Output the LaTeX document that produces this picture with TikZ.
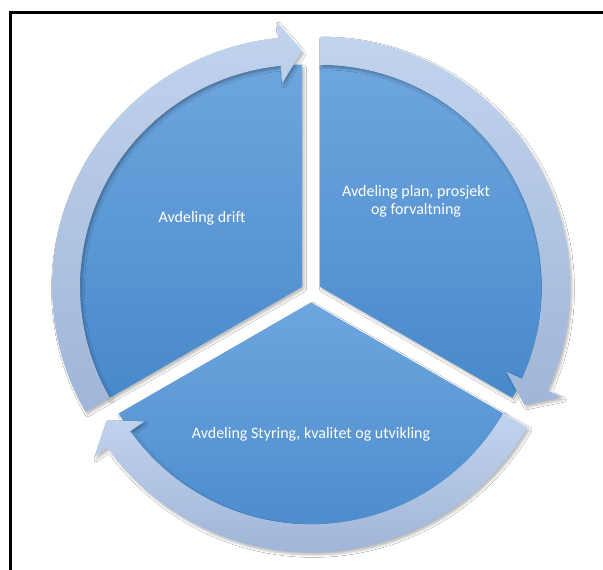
\documentclass[tikz,border=0pt]{standalone}
\usepackage{fontspec}
\setmainfont{Carlito}
\usetikzlibrary{shadows.blur}
\definecolor{secTop}{RGB}{110,166,222}
\definecolor{secBot}{RGB}{72,137,203}
\definecolor{ringTop}{RGB}{193,212,238}
\definecolor{ringBot}{RGB}{160,182,216}
\tikzset{
  sector/.style={top color=secTop, bottom color=secBot, draw=none,
    blur shadow={shadow xshift=2pt, shadow yshift=-2.5pt, shadow blur radius=2.5pt, shadow opacity=28}},
  ringarrow/.style={top color=ringTop, bottom color=ringBot, draw=none,
    blur shadow={shadow xshift=2pt, shadow yshift=-2.5pt, shadow blur radius=2.5pt, shadow opacity=28}},
  label/.style={text=white, font=\fontsize{16}{18}\selectfont, align=center, anchor=base, inner sep=0pt}
}
\begin{document}
\begin{tikzpicture}[x=1pt,y=1pt]
\useasboundingbox (0,0) rectangle (603,570);
\fill[white] (0,0) rectangle (603,570);
% frame
\draw[line width=3pt] (10,0) -- (10,557.5) -- (603,557.5);
% sectors
\begin{scope}[shift={(302,283.2)}]
  \path[sector] (0,0) -- (90:222) arc[start angle=90, end angle=210, radius=222] -- cycle;
\end{scope}
\begin{scope}[shift={(320,283.2)}]
  \path[sector] (0,0) -- (90:222) arc[start angle=90, end angle=-30, radius=222] -- cycle;
\end{scope}
\begin{scope}[shift={(311,267.6)}]
  \path[sector] (0,0) -- (-30:222) arc[start angle=-30, end angle=-150, radius=222] -- cycle;
\end{scope}
% ring arrows
\begin{scope}[shift={(302,283.2)}]
  \path[ringarrow] (210:250) arc[start angle=210, end angle=95.5, radius=250]
    -- (95.5:266) -- (90:236) -- (95.5:205) -- (95.5:222)
    arc[start angle=95.5, end angle=210, radius=222] -- cycle;
\end{scope}
\begin{scope}[shift={(320,283.2)}]
  \path[ringarrow] (90:250) arc[start angle=90, end angle=-24.5, radius=250]
    -- (-24.5:266) -- (-30:236) -- (-24.5:205) -- (-24.5:222)
    arc[start angle=-24.5, end angle=90, radius=222] -- cycle;
\end{scope}
\begin{scope}[shift={(311,267.6)}]
  \path[ringarrow] (-30:250) arc[start angle=-30, end angle=-144.5, radius=250]
    -- (-144.5:266) -- (-150:236) -- (-144.5:205) -- (-144.5:222)
    arc[start angle=-144.5, end angle=-30, radius=222] -- cycle;
\end{scope}
% labels
\node[label] (drift) at (202,347) {Avdeling drift};
\node[label] (plan) at (416,355) {Avdeling plan, prosjekt\\og forvaltning};
\node[label] (styring) at (311,131) {Avdeling Styring, kvalitet og utvikling};
\end{tikzpicture}
\end{document}
